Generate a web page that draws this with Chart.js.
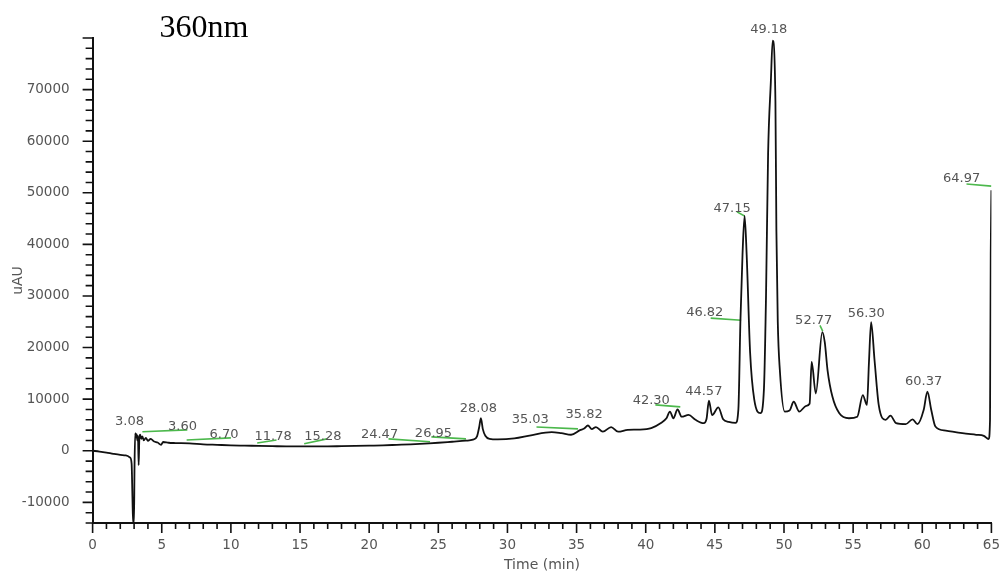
<!DOCTYPE html>
<html>
<head>
<meta charset="utf-8">
<title>360nm</title>
<script src="https://cdn.jsdelivr.net/npm/chart.js@4.4.1/dist/chart.umd.min.js"></script>
<style>
  html, body { margin: 0; padding: 0; background: #fff; }
  canvas { display: block; }
</style>
</head>
<body>
<canvas id="trace" width="1000" height="573"></canvas>
<script>
// detector trace, time in min, signal in uAU
const times = [
  0, 0.5, 1.0, 1.5, 2.0, 2.4, 2.7, 2.82, 2.88, 2.93, 2.99, 3.03, 3.08, 3.13, 3.18, 3.24, 3.28, 3.33,
  3.38, 3.44, 3.52, 3.6, 3.7, 3.85, 4.0, 4.2, 4.45, 4.7, 4.95, 5.1, 5.5, 6.0, 7.0, 8.0, 9.0, 10.0,
  11.0, 12.0, 13.0, 14.0, 15.0, 16.0, 17.0, 18.0, 19.0, 20.0, 21.0, 22.0, 23.0, 24.0, 25.0, 26.0,
  27.0, 27.5, 27.8, 27.95, 28.08, 28.22, 28.4, 28.7, 29.3, 30.5, 31.7, 33.2, 33.9, 34.6, 35.25,
  35.55, 35.82, 36.1, 36.4, 36.9, 37.5, 38.0, 38.7, 39.5, 40.4, 41.1, 41.5, 41.75, 42.0, 42.3, 42.6,
  43.1, 43.6, 44.2, 44.4, 44.57, 44.8, 45.25, 45.6, 46.0, 46.5, 46.7, 46.85, 47.0, 47.15, 47.3,
  47.55, 47.85, 48.3, 48.55, 48.7, 48.85, 49.05, 49.18, 49.38, 49.45, 49.55, 49.7, 50.05, 50.4,
  50.7, 51.1, 51.6, 51.85, 52.0, 52.3, 52.77, 52.95, 53.15, 53.5, 54.0, 54.7, 55.3, 55.7, 56.0,
  56.15, 56.3, 56.55, 56.85, 57.35, 57.7, 58.1, 58.8, 59.3, 59.65, 60.1, 60.37, 60.65, 60.95,
  61.7, 62.9, 63.9, 64.45, 64.8, 64.9, 64.95, 65.0
];
const signal = [
  0, -150, -350, -600, -800, -900, -1300, -2500, -9000, -14000, -14000, -3000, 3400, 2600, 3200, 2000, 2900, -2800,
  2500, 3100, 2300, 2800, 2000, 2500, 1900, 2300, 1800, 1600, 1150, 1700, 1550, 1500, 1450, 1250, 1150, 1050,
  1000, 950, 900, 850, 850, 850, 850, 900, 950, 1000, 1050, 1150, 1250, 1400, 1550, 1750,
  1950, 2150, 2800, 4500, 6300, 4200, 2900, 2300, 2200, 2400, 3000, 3600, 3400, 3100, 4000,
  4300, 4900, 4200, 4600, 3700, 4600, 3700, 4050, 4100, 4400, 5400, 6300, 7600, 6300, 8000, 6600,
  6950, 6000, 5350, 6200, 9700, 6900, 8400, 6100, 5600, 5400, 8000, 25300, 38000, 45500, 38000,
  19000, 9900, 7300, 12000, 30000, 57500, 71600, 79500, 67700, 42700, 25000, 15600, 7600, 7800,
  9500, 7600, 8700, 9100, 17200, 11100, 23000, 21000, 15600, 10500, 7250, 6300, 6600, 10800, 8900,
  17500, 24950, 17500, 8900, 6000, 6800, 5350, 5150, 6100, 5150, 7900, 11450, 7900, 4700,
  3900, 3400, 3100, 2900, 2250, 6000, 38000, 50500
];

// integration baselines (green)
const markStartTimes  = [3.6, 6.8, 11.9, 15.3, 21.4, 24.5, 32.1, 40.7, 44.7, 46.6, 52.6, 63.2];
const markEndTimes    = [6.85, 10.0, 13.3, 16.95, 24.4, 27.0, 35.1, 42.5, 46.9, 47.15, 52.8, 65.0];
const markStartLevels = [3700, 2100, 1500, 1350, 2300, 2700, 4600, 8900, 25700, 46300, 24300, 51700];
const markEndLevels   = [4050, 2500, 2100, 2300, 1750, 2300, 4250, 8500, 25300, 45500, 23200, 51300];

// retention time labels and where they sit
const peakNames = ['3.08', '3.60', '6.70', '11.78', '15.28', '24.47', '26.95', '28.08', '35.03', '35.82',
  '42.30', '44.57', '46.82', '47.15', '49.18', '52.77', '56.30', '60.37', '64.97'];
const peakNameTimes = [2.67, 6.5, 9.5, 13.05, 16.65, 20.75, 24.65, 27.9, 31.65, 35.55,
  40.4, 44.2, 44.27, 46.25, 48.9, 52.15, 55.95, 60.1, 62.85];
const peakNameLevels = [5600, 4600, 3100, 2700, 2700, 3100, 3300, 8200, 6000, 6950,
  9650, 11400, 26700, 47000, 81700, 25300, 26600, 13400, 52800];

const tickFont = { family: 'DejaVu Sans', size: 13.5 };
const greyText = '#555';

// axis ticks: long on labelled values, short in between
const axisTicks = {
  id: 'axisTicks',
  afterDraw(chart) {
    const { ctx, chartArea, scales } = chart;
    ctx.save();
    ctx.strokeStyle = '#111';
    ctx.lineWidth = 1.6;
    ctx.beginPath();
    scales.x.ticks.forEach(t => {
      const px = scales.x.getPixelForValue(t.value);
      const len = t.value % 5 === 0 ? 10 : 6;
      ctx.moveTo(px, chartArea.bottom);
      ctx.lineTo(px, chartArea.bottom + len);
    });
    scales.y.ticks.forEach(t => {
      const py = scales.y.getPixelForValue(t.value);
      const len = t.value % 10000 === 0 ? 10 : 7;
      ctx.moveTo(chartArea.left, py);
      ctx.lineTo(chartArea.left - len, py);
    });
    ctx.stroke();
    ctx.restore();
  }
};

const peakText = {
  id: 'peakText',
  afterDatasetsDraw(chart) {
    const { ctx, scales } = chart;
    ctx.save();
    ctx.font = '13px "DejaVu Sans"';
    ctx.fillStyle = greyText;
    ctx.textAlign = 'center';
    ctx.textBaseline = 'middle';
    peakNames.forEach((s, i) => {
      ctx.fillText(s, scales.x.getPixelForValue(peakNameTimes[i]), scales.y.getPixelForValue(peakNameLevels[i]));
    });
    ctx.restore();
  }
};

const heading = {
  id: 'heading',
  afterDraw(chart) {
    const { ctx, chartArea } = chart;
    ctx.save();
    ctx.font = '32px "Liberation Serif"';
    ctx.fillStyle = '#000';
    ctx.textBaseline = 'alphabetic';
    ctx.fillText('360nm', chartArea.left + 67, chartArea.top - 1);
    ctx.restore();
  }
};

const datasets = [{
  data: times.map((t, i) => ({ x: t, y: signal[i] })),
  borderColor: '#111',
  borderWidth: 1.8,
  pointRadius: 0,
  cubicInterpolationMode: 'monotone'
}];
markStartTimes.forEach((t0, i) => {
  datasets.push({
    data: [{ x: t0, y: markStartLevels[i] }, { x: markEndTimes[i], y: markEndLevels[i] }],
    borderColor: '#4cb84c',
    borderWidth: 1.6,
    pointRadius: 0
  });
});

new Chart(document.getElementById('trace'), {
  type: 'line',
  data: { datasets: datasets },
  plugins: [axisTicks, peakText, heading],
  options: {
    responsive: false,
    animation: false,
    layout: { padding: { top: 38, left: 0, right: 0, bottom: 0 } },
    plugins: {
      legend: { display: false },
      tooltip: { enabled: false }
    },
    scales: {
      x: {
        type: 'linear',
        min: 0,
        max: 65,
        // tick marks are drawn by axisTicks; tickLength only keeps room for them
        grid: { display: false, tickLength: 14 },
        border: { display: true, color: '#111', width: 2 },
        ticks: {
          stepSize: 1,
          autoSkip: false,
          maxRotation: 0,
          padding: 0,
          color: greyText,
          font: tickFont,
          callback: v => (v % 5 === 0 ? String(v) : '')
        },
        title: {
          display: true,
          text: 'Time (min)',
          color: greyText,
          font: { family: 'DejaVu Sans', size: 14 },
          padding: { top: 4, bottom: -1 }
        }
      },
      y: {
        type: 'linear',
        min: -14000,
        max: 80000,
        grid: { display: false, tickLength: 23 },
        border: { display: true, color: '#111', width: 2 },
        ticks: {
          stepSize: 2000,
          autoSkip: false,
          padding: 0,
          color: greyText,
          font: tickFont,
          callback: v => (v % 10000 === 0 && v < 80000 ? String(v) : '')
        },
        title: {
          display: true,
          text: 'uAU',
          color: greyText,
          font: { family: 'DejaVu Sans', size: 14 },
          padding: { top: 10, bottom: -5 }
        }
      }
    }
  }
});
</script>
</body>
</html>
